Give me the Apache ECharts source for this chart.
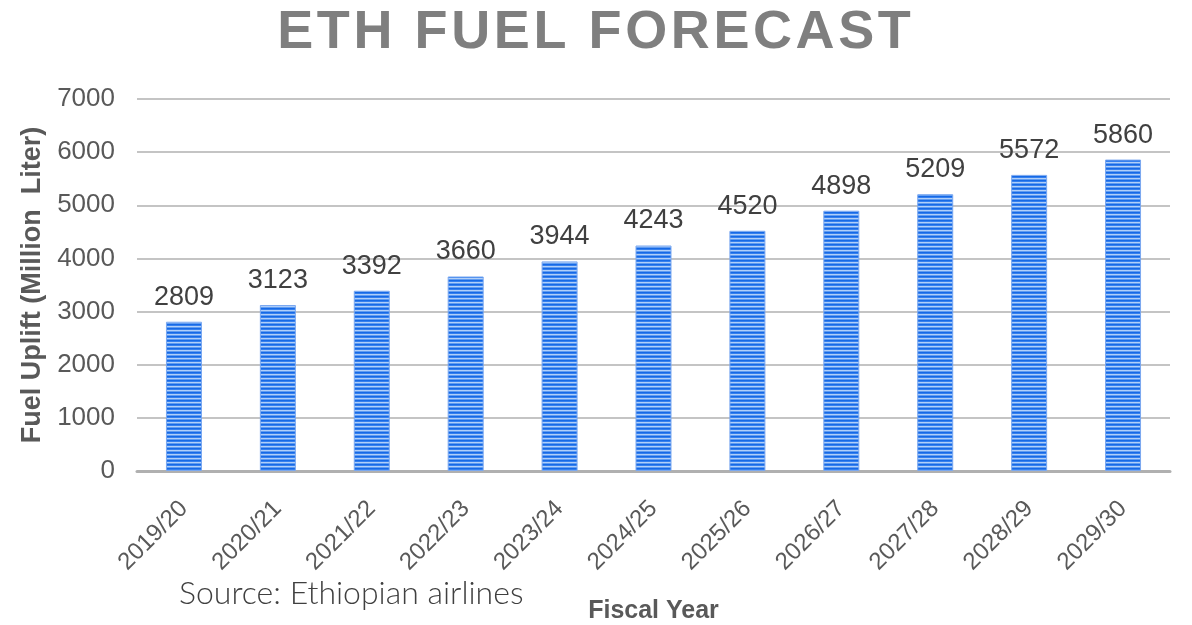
<!DOCTYPE html>
<html>
<head>
<meta charset="utf-8">
<script src="https://cdn.jsdelivr.net/npm/echarts@6/dist/echarts.min.js"></script>
<style>
  html, body { margin: 0; padding: 0; background: #ffffff; }
  #chart { width: 1192px; height: 625px; }
</style>
</head>
<body>
<div id="chart"></div>
<script>
// Fiscal years and forecast fuel uplift (million liters)
const categories = ['2019/20', '2020/21', '2021/22', '2022/23', '2023/24', '2024/25',
                    '2025/26', '2026/27', '2027/28', '2028/29', '2029/30'];
const fuelUplift = [2809, 3123, 3392, 3660, 3944, 4243, 4520, 4898, 5209, 5572, 5860];
const yTicks = { min: 0, max: 7000, interval: 1000 };
const titleText = 'ETH FUEL FORECAST';
const sourceText = 'Source: Ethiopian airlines';

const FONT = 'Liberation Sans, Arial, sans-serif';

// Horizontal stripe fill for the bars
function stripePattern() {
  const c = document.createElement('canvas');
  c.width = 4; c.height = 4;
  const ctx = c.getContext('2d');
  const rows = ['#1669e6', '#3580ee', '#b0cff9', '#609cf1'];
  rows.forEach((col, i) => { ctx.fillStyle = col; ctx.fillRect(0, i, 4, 1); });
  return c;
}

// Title letters as rich tokens so they can be tracked out a little
const spacedTitle = titleText.split('').map(ch => '{c|' + ch + '}').join('');

const chart = echarts.init(document.getElementById('chart'), null, { renderer: 'canvas' });

chart.setOption({
  animation: false,
  backgroundColor: '#ffffff',
  grid: { left: 137, right: 22, top: 99, bottom: 154, outerBoundsMode: 'none', containLabel: false },
  xAxis: {
    type: 'category',
    data: categories,
    name: 'Fiscal Year',
    nameLocation: 'middle',
    nameGap: 128,
    nameTextStyle: {
      fontFamily: FONT,
      fontWeight: 'bold',
      fontSize: 25,
      color: '#595959'
    },
    axisLine: { lineStyle: { color: '#b0b0b0', width: 3 } },
    axisTick: { show: false },
    axisLabel: {
      rotate: 45,
      margin: 34,
      fontFamily: FONT,
      fontSize: 24,
      color: '#595959'
    }
  },
  yAxis: {
    type: 'value',
    min: yTicks.min,
    max: yTicks.max,
    interval: yTicks.interval,
    name: 'Fuel Uplift (Million  Liter)',
    nameLocation: 'middle',
    nameGap: 90,
    nameTextStyle: {
      fontFamily: FONT,
      fontWeight: 'bold',
      fontSize: 27,
      color: '#595959'
    },
    axisLine: { show: false },
    axisTick: { show: false },
    axisLabel: {
      margin: 22,
      formatter: v => String(v),
      fontFamily: FONT,
      fontSize: 26,
      color: '#595959'
    },
    splitLine: { lineStyle: { color: '#c4c4c4', width: 2 } }
  },
  series: [{
    type: 'bar',
    data: fuelUplift,
    barWidth: 36,
    itemStyle: {
      color: { image: stripePattern(), repeat: 'repeat' },
      borderColor: '#7aa8f0',
      borderWidth: 1
    },
    label: {
      show: true,
      position: 'top',
      distance: 11,
      fontFamily: FONT,
      fontSize: 27,
      color: '#404040'
    }
  }],
  graphic: [{
    type: 'text',
    x: 594,
    y: 33,
    style: {
      text: spacedTitle,
      align: 'center',
      verticalAlign: 'middle',
      rich: {
        c: {
          fontFamily: FONT,
          fontWeight: 'bold',
          fontSize: 54,
          fill: '#7f7f7f',
          padding: [0, 1.8]
        }
      }
    }
  }, {
    type: 'text',
    left: 179,
    top: 578,
    style: {
      text: sourceText,
      fontFamily: 'Lato, sans-serif',
      fontWeight: 300,
      fontSize: 32,
      fill: '#404040'
    }
  }]
});
</script>
</body>
</html>
